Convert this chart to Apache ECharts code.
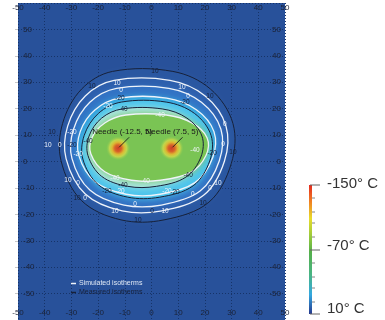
<!DOCTYPE html>
<html><head><meta charset="utf-8">
<script src="https://cdn.jsdelivr.net/npm/echarts@6/dist/echarts.min.js"></script>
<style>html,body{margin:0;padding:0;background:#fff}#c{width:385px;height:320px}</style>
</head><body><div id="c"></div>
<script>
// ---- data (data units: mm) ----
const needles = [[-12.5, 5], [7.5, 5]];
const needleNames = ['Needle (-12.5, 5)', 'Needle (7.5, 5)'];

// isotherm contours (x, y)
const isoMeas10  = [[-14.6,34.1],[8.0,34.1],[22.1,27.4],[30.5,14.4],[29.9,-0.7],[21.5,-15.4],[4.7,-22.1],[-11.4,-22.1],[-26.2,-14.8],[-33.9,0.4],[-33.3,14.4],[-26.2,27.4]];
const isoSim10   = [[-14.0,30.7],[6.9,30.7],[20.1,24.8],[27.9,13.4],[27.3,0.1],[19.5,-12.8],[3.9,-18.7],[-11.0,-18.7],[-24.8,-12.3],[-32.0,1.1],[-31.4,13.4],[-24.8,24.8]];
const isoSim0    = [[-13.1,27.7],[6.5,27.7],[18.7,22.4],[26.0,12.2],[25.4,0.3],[18.2,-11.2],[3.7,-16.5],[-10.3,-16.5],[-23.1,-10.8],[-29.8,1.2],[-29.2,12.2],[-23.1,22.4]];
const isoSimM20  = [[-12.0,24.0],[5.7,24.0],[16.8,19.6],[23.4,11.3],[22.9,1.4],[16.3,-8.0],[3.2,-12.4],[-9.5,-12.4],[-21.1,-7.7],[-27.2,2.2],[-26.7,11.3],[-21.1,19.6]];
const isoMeasM20 = [[-11.3,22.5],[5.5,22.5],[16.1,18.2],[22.3,9.9],[21.8,0.2],[15.6,-9.2],[3.1,-13.5],[-8.9,-13.5],[-19.9,-8.8],[-25.7,0.9],[-25.2,9.9],[-19.9,18.2]];
const isoMeasM40 = [[-11.0,19.9],[4.0,19.9],[13.3,16.4],[18.9,9.6],[18.5,1.7],[12.9,-5.9],[1.8,-9.4],[-8.9,-9.4],[-18.7,-5.6],[-23.8,2.3],[-23.4,9.6],[-18.7,16.4]];
const isoSimM40  = [[-9.6,17.6],[5.6,17.6],[15.1,14.6],[20.8,9.0],[20.4,2.3],[14.7,-4.1],[3.4,-7.1],[-7.5,-7.1],[-17.5,-3.9],[-22.7,2.8],[-22.3,9.0],[-17.5,14.6]];

// contour labels: x, y, text, kind (s = simulated, m = measured)
const lineLabels = [
  [1.3,34.1,'10','m'],[21.9,24.7,'10','m'],[-22.3,28.5,'10','m'],
  [-12.9,29.6,'10','s'],[-11.4,27.0,'0','s'],[11.4,28.1,'10','s'],[13.7,24.7,'0','s'],
  [-11.8,24.0,'-20','m'],[-10.7,19.9,'-40','m'],[3.2,17.6,'-40','s'],[12.5,22.5,'-20','m'],[-16.3,21.0,'-20','s'],
  [-37.3,11.2,'10','m'],[-38.8,6.0,'10','s'],[-34.3,6.0,'0','s'],[-29.8,11.2,'-20','s'],[-29.8,6.0,'-20','m'],
  [-23.8,7.5,'-40','m'],[-27.5,2.6,'-20','s'],[-31.3,-7.1,'10','s'],[-27.5,-8.2,'0','s'],[-27.9,-13.9,'10','m'],[-24.9,-13.9,'0','s'],
  [-13.7,-6.4,'-40','s'],[-10.7,-9.0,'-40','m'],[-2.4,-7.5,'-40','s'],[-16.7,-11.2,'-20','m'],[-11.8,-11.2,'-20','s'],
  [5.8,-11.2,'-20','s'],[8.8,-11.6,'-20','m'],[-6.2,-16.1,'0','s'],[-13.7,-18.7,'10','s'],[0.2,-18.7,'0','m'],[5.1,-18.7,'10','s'],
  [-5.1,-22.1,'10','m'],[15.5,-12.4,'0','s'],[19.3,-15.7,'10','m'],[27.5,14.2,'0','s'],[26.8,6.7,'0','s'],[22.7,3.0,'-20','m'],
  [30.5,3.7,'10','m'],[16.3,4.1,'-40','s'],[13.7,-5.2,'-40','m'],[24.9,-8.2,'10','s'],[21.9,-10.1,'0','s']
];
const colorbarLabels = ['-150° C', '-70° C', '10° C'];
const seriesNames = ['Simulated isotherms', 'Measured isotherms'];

// ---- styles ----
const FONT = 'Liberation Sans';
const fillBands = [isoMeas10, isoSim10, isoSim0, isoSimM20, isoMeasM20, isoMeasM40, isoSimM40];
const fillColors = ['#2a57a1', '#2d5fad', '#3272c4', '#2f9cda', '#4cc4ec', '#a6e4df', '#7ac454'];
const simLines = [isoSim10, isoSim0, isoSimM20, isoSimM40];
const measLines = [isoMeas10, isoMeasM20, isoMeasM40];
const SIM_COLOR = '#eef3fa', MEAS_COLOR = '#17213a';

function poly(points, api) { return points.map(p => api.coord(p)); }

const chart = echarts.init(document.getElementById('c'), null, {renderer: 'canvas'});
const axisLabelBase = {inside: true, color: '#1b2235', fontSize: 8, fontFamily: FONT};

const option = {
  animation: false,
  backgroundColor: '#ffffff',
  grid: {left: 18, right: 100, top: 3, bottom: -3, show: true, backgroundColor: '#28519a', borderWidth: 0},
  xAxis: [
    {type: 'value', min: -50, max: 50, interval: 10, position: 'top',
     axisLine: {show: false, onZero: false}, axisTick: {show: false},
     axisLabel: Object.assign({margin: 1}, axisLabelBase),
     splitLine: {show: true, lineStyle: {type: [1, 2], color: '#163368', width: 1}}},
    {type: 'value', min: -50, max: 50, interval: 10, position: 'bottom',
     axisLine: {show: false, onZero: false}, axisTick: {show: false},
     axisLabel: Object.assign({margin: 3}, axisLabelBase), splitLine: {show: false}}
  ],
  yAxis: [
    {type: 'value', min: -60, max: 60, interval: 10, position: 'left',
     axisLine: {show: false, onZero: false}, axisTick: {show: true, length: 3, lineStyle: {color: '#c8c8c8'}},
     axisLabel: Object.assign({margin: 5, showMinLabel: false, showMaxLabel: false}, axisLabelBase),
     splitLine: {show: true, lineStyle: {type: [1, 2], color: '#163368', width: 1}}},
    {type: 'value', min: -60, max: 60, interval: 10, position: 'right',
     axisLine: {show: false, onZero: false}, axisTick: {show: false},
     axisLabel: Object.assign({margin: 4, showMinLabel: false, showMaxLabel: false}, axisLabelBase),
     splitLine: {show: false}}
  ],
  legend: {
    orient: 'vertical', left: 66, top: 275, itemWidth: 5, itemHeight: 1.5, itemGap: 2,
    data: [
      {name: seriesNames[0], icon: 'rect', textStyle: {color: '#dfe8f5'}},
      {name: seriesNames[1], icon: 'rect', textStyle: {color: '#17213a'}}
    ],
    textStyle: {fontSize: 7, fontFamily: FONT, padding: [0, 0, 0, -2]}
  },
  series: [
    {type: 'custom', name: 'field', silent: true, z: 1,
     data: fillBands.map((b, i) => [0, 0, i]),
     renderItem: (params, api) => {
       const i = api.value(2);
       const c = fillColors[i];
       return {type: 'polygon', shape: {points: poly(fillBands[i], api), smooth: 0.35},
               style: {fill: c, shadowBlur: i >= 3 ? 7 : 4, shadowColor: c}};
     }},
    {type: 'scatter', name: 'needles', silent: true, z: 3, symbolSize: 24, data: needles,
     itemStyle: {color: {type: 'radial', x: 0.5, y: 0.5, r: 0.5, colorStops: [
       {offset: 0, color: '#e31d1d'}, {offset: 0.28, color: '#ef4a1e'}, {offset: 0.5, color: '#f6b22a'},
       {offset: 0.72, color: 'rgba(236,226,70,0.75)'}, {offset: 1, color: 'rgba(150,205,80,0)'}]}}},
    {type: 'custom', name: seriesNames[0], z: 4, itemStyle: {color: SIM_COLOR},
     data: simLines.map((b, i) => [0, 0, i]),
     renderItem: (params, api) => ({type: 'polygon', shape: {points: poly(simLines[api.value(2)], api), smooth: 0.35},
       style: {fill: 'none', stroke: SIM_COLOR, lineWidth: 1.3}})},
    {type: 'custom', name: seriesNames[1], z: 4, itemStyle: {color: MEAS_COLOR},
     data: measLines.map((b, i) => [0, 0, i]),
     renderItem: (params, api) => ({type: 'polygon', shape: {points: poly(measLines[api.value(2)], api), smooth: 0.35},
       style: {fill: 'none', stroke: MEAS_COLOR, lineWidth: 1}})},
    {type: 'custom', name: 'labels', silent: true, z: 5,
     data: lineLabels.map((l, i) => [l[0], l[1], i]),
     renderItem: (params, api) => {
       const l = lineLabels[api.value(2)];
       const p = api.coord([api.value(0), api.value(1)]);
       return {type: 'text', x: p[0], y: p[1],
         style: {text: l[2], fill: l[3] === 's' ? SIM_COLOR : MEAS_COLOR, fontSize: 6.5, fontFamily: FONT,
                 align: 'center', verticalAlign: 'middle'}};
     }},
    {type: 'custom', name: 'needleLabels', silent: true, z: 6,
     data: needles.map((n, i) => [n[0], n[1], i]),
     renderItem: (params, api) => {
       const p = api.coord([api.value(0), api.value(1)]);
       const i = api.value(2);
       return {type: 'group', children: [
         {type: 'line', shape: {x1: p[0] + 11, y1: p[1] - 11, x2: p[0] + 1, y2: p[1] - 1},
          style: {stroke: '#1a1a1a', lineWidth: 0.9}},
         {type: 'text', x: p[0] - 26, y: p[1] - 16,
          style: {text: needleNames[i], fill: '#1a1a1a', fontSize: 8, fontFamily: FONT, verticalAlign: 'middle'}}
       ]};
     }}
  ],
  graphic: [
    {type: 'rect', left: 309, top: 185, shape: {width: 3, height: 129},
     style: {fill: {type: 'linear', x: 0, y: 0, x2: 0, y2: 1, colorStops: [
       {offset: 0, color: '#e42a1f'}, {offset: 0.12, color: '#f07a22'}, {offset: 0.26, color: '#e8dc2a'},
       {offset: 0.42, color: '#8cc63f'}, {offset: 0.52, color: '#55b04a'}, {offset: 0.7, color: '#48b486'},
       {offset: 0.85, color: '#34a8e0'}, {offset: 1, color: '#25378c'}]}}},
    ...[185, 250, 314].map(y => ({type: 'line', shape: {x1: 310, y1: y, x2: 320, y2: y}, style: {stroke: '#666', lineWidth: 1}})),
    ...[198, 212, 223, 237, 263, 277, 288, 302].map(y => ({type: 'line', shape: {x1: 312, y1: y, x2: 315, y2: y}, style: {stroke: '#888', lineWidth: 1}})),
    ...colorbarLabels.map((t, i) => ({type: 'text', left: 327, top: [176, 238, 301][i],
      style: {text: t, fill: '#333', fontSize: 15, fontFamily: FONT}}))
  ]
};
chart.setOption(option);
</script></body></html>
